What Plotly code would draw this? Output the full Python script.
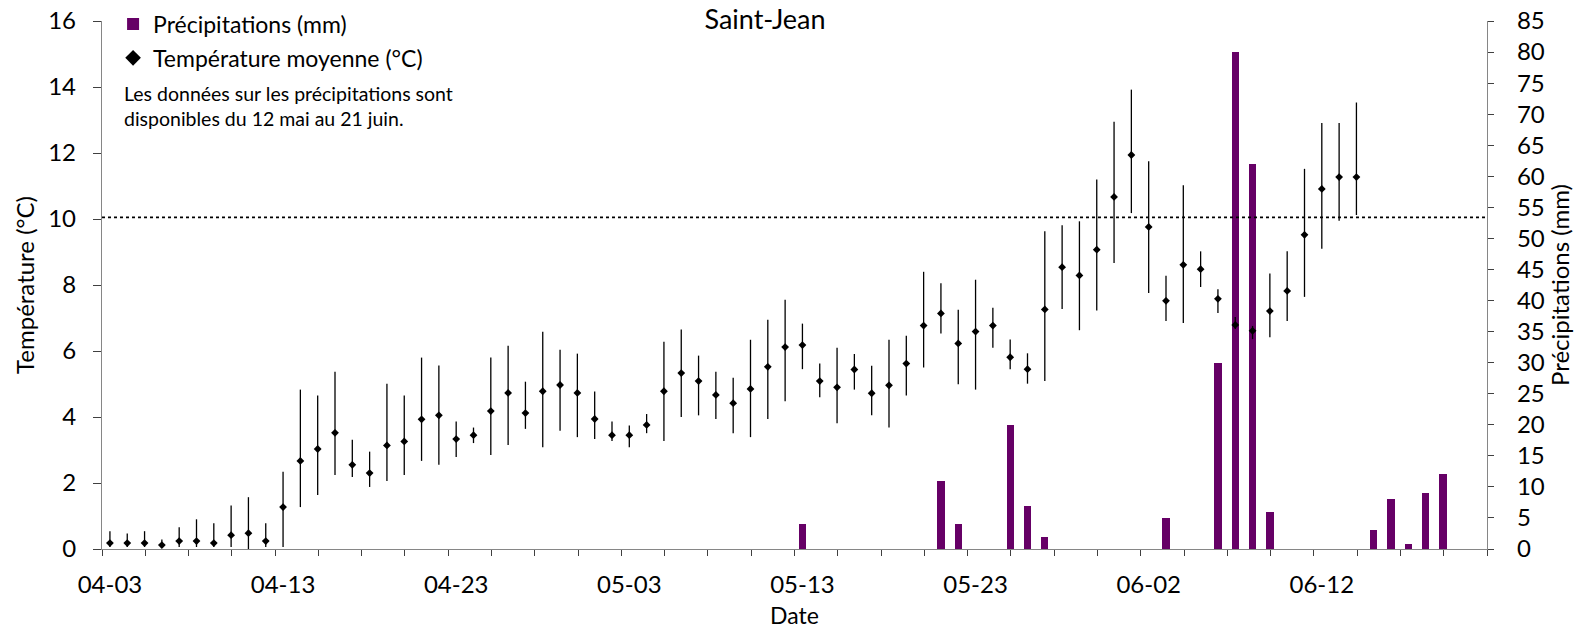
import datetime as dt
import plotly.graph_objects as go

# ---------------- data ----------------
temp_start = "2021-04-03"
temp_mean = [0.18, 0.18, 0.18, 0.12, 0.24, 0.24, 0.18, 0.42, 0.48, 0.24,
             1.27, 2.67, 3.03, 3.52, 2.55, 2.30, 3.14, 3.26, 3.93, 4.05,
             3.33, 3.45, 4.18, 4.73, 4.12, 4.78, 4.97, 4.73, 3.94, 3.45,
             3.45, 3.76, 4.78, 5.33, 5.09, 4.67, 4.42, 4.85, 5.52, 6.12,
             6.18, 5.09, 4.90, 5.44, 4.72, 4.96, 5.62, 6.77, 7.14, 6.23,
             6.59, 6.77, 5.81, 5.45, 7.26, 8.54, 8.29, 9.07, 10.67, 11.94,
             9.76, 7.52, 8.61, 8.48, 7.58, 6.79, 6.61, 7.21, 7.82, 9.52,
             10.91, 11.27, 11.27]
temp_high = [0.54, 0.47, 0.54, 0.29, 0.66, 0.90, 0.78, 1.32, 1.57, 0.78,
             2.34, 4.83, 4.65, 5.37, 3.31, 2.95, 5.01, 4.65, 5.80, 5.56,
             3.86, 3.68, 5.80, 6.16, 5.07, 6.58, 6.04, 5.92, 4.77, 3.86,
             3.74, 4.09, 6.28, 6.65, 5.86, 5.37, 5.19, 6.34, 6.95, 7.55,
             6.83, 5.62, 6.10, 5.91, 5.55, 6.34, 6.46, 8.40, 8.05, 7.25,
             8.16, 7.31, 6.35, 5.93, 9.63, 9.81, 9.93, 11.20, 12.95, 13.92,
             11.75, 8.28, 11.02, 9.02, 7.87, 7.03, 6.76, 8.35, 9.02, 11.52,
             12.91, 12.91, 13.53]
temp_low = [0.06, 0.06, 0.06, 0.06, 0.06, 0.06, 0.06, 0.06, 0.00, 0.06,
            0.06, 1.27, 1.64, 2.24, 2.18, 1.88, 2.06, 2.24, 2.67, 2.55,
            2.79, 3.21, 2.85, 3.15, 3.64, 3.08, 3.58, 3.39, 3.33, 3.27,
            3.08, 3.51, 3.27, 4.00, 4.05, 3.94, 3.51, 3.39, 3.94, 4.48,
            5.45, 4.60, 3.81, 4.83, 4.05, 3.68, 4.65, 5.50, 6.53, 4.99,
            4.83, 6.10, 5.45, 5.01, 5.09, 7.27, 6.63, 7.23, 8.67, 10.18,
            7.76, 6.91, 6.85, 7.94, 7.15, 6.67, 6.36, 6.42, 6.91, 7.64,
            9.10, 9.95, 10.12]

precip_start = "2021-05-12"
precip_mm = [0, 4, 0, 0, 0, 0, 0, 0, 0, 11,
             4, 0, 0, 20, 7, 2, 0, 0, 0, 0,
             0, 0, 5, 0, 0, 30, 80, 62, 6, 0,
             0, 0, 0, 0, 3, 8, 0.8, 9, 12, 0,
             0]

threshold_temp = 10.05
x_label_dates = ["2021-04-03", "2021-04-13", "2021-04-23", "2021-05-03",
                 "2021-05-13", "2021-05-23", "2021-06-02", "2021-06-12"]
x_range = ["2021-04-02 13:00", "2021-06-21 13:00"]

# ---------------- build ----------------
def days(start, n):
    d0 = dt.date.fromisoformat(start)
    return [(d0 + dt.timedelta(days=i)).isoformat() for i in range(n)]

t_dates = days(temp_start, len(temp_mean))
p_dates = days(precip_start, len(precip_mm))
err_up = [h - m for h, m in zip(temp_high, temp_mean)]
err_dn = [m - l for m, l in zip(temp_mean, temp_low)]

FONT = "Lato"
PURPLE = "#660066"
AXIS = "#868686"
TICKF = dict(family=FONT, size=24, color="black")

fig = go.Figure()
fig.add_trace(go.Bar(
    x=p_dates, y=precip_mm, name="Précipitations (mm)", legendgroup="p",
    marker=dict(color=PURPLE, line=dict(width=0)),
    width=0.42 * 86400000, yaxis="y",
))
fig.add_trace(go.Scatter(
    x=t_dates, y=temp_mean, name="Température moyenne (°C)", legendgroup="t",
    mode="markers", yaxis="y2",
    marker=dict(symbol="diamond", size=6, color="black"),
    error_y=dict(type="data", symmetric=False, array=err_up, arrayminus=err_dn,
                 color="black", thickness=1.3, width=0),
))

fig.add_shape(type="line", xref="paper", x0=0, x1=1, yref="y2",
              y0=threshold_temp, y1=threshold_temp,
              line=dict(color="black", width=1.8, dash="dot"), layer="above")

fig.add_annotation(
    text="Les données sur les précipitations sont<br>disponibles du 12 mai au 21 juin.",
    xref="paper", yref="paper", x=0.0145, y=0.888, xanchor="left", yanchor="top",
    align="left", showarrow=False, font=dict(family=FONT, size=19.5, color="black"),
)
# right axis title
fig.add_annotation(
    text="Précipitations (mm)", textangle=-90,
    xref="paper", yref="paper", x=1.052, y=0.5, xanchor="center", yanchor="middle",
    showarrow=False, font=dict(family=FONT, size=24, color="black"),
)

fig.update_layout(
    width=1579, height=631,
    margin=dict(l=102, r=92, t=21, b=82, autoexpand=False),
    paper_bgcolor="white", plot_bgcolor="white",
    font=dict(family=FONT, size=23, color="black"),
    title=dict(text="Saint-Jean", x=765 / 1579, xanchor="center",
               y=1 - 20 / 631, yanchor="middle", yref="container",
               font=dict(family=FONT, size=27, color="black")),
    showlegend=True,
    legend=dict(x=0.008, y=1.035, xanchor="left", yanchor="top",
                bgcolor="rgba(0,0,0,0)", font=dict(family=FONT, size=23),
                traceorder="grouped", tracegroupgap=1, itemsizing="constant"),
    bargap=0,
    xaxis=dict(
        type="date", range=x_range,
        tickmode="array", tickvals=x_label_dates, tickformat="%m-%d",
        ticks="outside", ticklen=0, ticklabelstandoff=14,
        showline=True, linecolor=AXIS, linewidth=1.3,
        showgrid=False, zeroline=False,
        tickfont=TICKF,
        title=dict(text="Date", font=dict(family=FONT, size=23), standoff=10),
        minor=dict(tickmode="linear", tick0="2021-04-02 13:00", dtick=216000000,
                   ticks="outside", ticklen=6, tickcolor="#404040", tickwidth=1.3,
                   showgrid=False),
    ),
    yaxis=dict(
        side="right", range=[0, 85], dtick=5, tick0=0,
        ticks="outside", ticklen=6, tickcolor="#404040", tickwidth=1.3,
        ticklabelstandoff=18,
        showline=True, linecolor=AXIS, linewidth=1.3,
        showgrid=False, zeroline=False,
        tickfont=TICKF,
    ),
    yaxis2=dict(
        side="left", overlaying="y", range=[0, 16], dtick=2, tick0=0,
        ticks="outside", ticklen=8, tickcolor="#404040", tickwidth=1.3,
        ticklabelstandoff=12,
        showline=True, linecolor=AXIS, linewidth=1.3,
        showgrid=False, zeroline=False,
        tickfont=TICKF,
        title=dict(text="Température (°C)", font=dict(family=FONT, size=24), standoff=6),
    ),
)

fig.write_html("out.html")
